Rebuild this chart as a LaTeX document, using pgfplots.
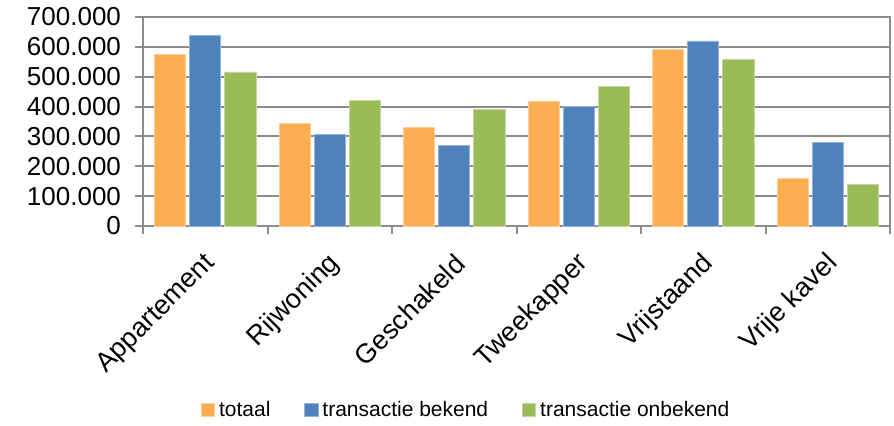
\documentclass[border=0pt]{standalone}
\usepackage{pgfplots}
\pgfplotsset{compat=1.18}
\usepackage{fontspec}
\setmainfont{Liberation Sans}
\definecolor{cOr}{HTML}{FDAE53}
\definecolor{cBl}{HTML}{4F81BD}
\definecolor{cGr}{HTML}{9BBB59}
\definecolor{cAx}{HTML}{8C8C8C}
\begin{document}
\begin{tikzpicture}
\useasboundingbox (-71.5pt,-99.5pt) rectangle (375.5pt,113pt);
\begin{axis}[
  at={(0,0)}, anchor=south west,
  scale only axis, width=373.5pt, height=104.5pt,
  ybar, bar width=0.25, bar shift auto,
  xmin=-0.5, xmax=5.5, ymin=0, ymax=700000,
  scaled y ticks=false,
  ytick={0,100000,...,700000},
  yticklabels={0,100.000,200.000,300.000,400.000,500.000,600.000,700.000},
  xtick={0,...,5},
  xticklabels={Appartement,Rijwoning,Geschakeld,Tweekapper,Vrijstaand,Vrije kavel},
  minor xtick={-0.5,0.5,...,5.5},
  major x tick style={draw=none},
  minor tick length=4pt,
  major tick length=4pt,
  tick align=outside,
  xtick pos=bottom, ytick pos=left,
  ymajorgrids,
  grid style={cAx, line width=1pt},
  axis line style={cAx, line width=1pt},
  every tick/.style={cAx, line width=1pt},
  tick style={cAx, line width=1pt},
  yticklabel style={font=\fontsize{13}{13}\selectfont, xshift=-3.5pt},
  xticklabel style={font=\fontsize{13.5}{13.5}\selectfont, rotate=45, anchor=east, yshift=-11pt, xshift=-3.5pt},
  /pgf/number format/assume math mode=true,
  legend columns=3,
  legend style={draw=none, at={(0.434,-0.88)}, anchor=center, font=\fontsize{10.5}{10.5}\selectfont,
    /tikz/every even column/.append style={column sep=15pt}},
  legend image code/.code={\fill[#1] (0pt,-3.3pt) rectangle (6.6pt,3.3pt);},
]
\addplot[fill=cOr, draw=cOr!60!white] coordinates {(0,576000) (1,345000) (2,329000) (3,419000) (4,590000) (5,158000)};
\addplot[fill=cBl, draw=cBl!60!white] coordinates {(0,638000) (1,308000) (2,269000) (3,400000) (4,620000) (5,279000)};
\addplot[fill=cGr, draw=cGr!60!white] coordinates {(0,516000) (1,422000) (2,390000) (3,467000) (4,557000) (5,139000)};
\legend{totaal, transactie bekend, transactie onbekend}
\draw[cAx, line width=1pt] (rel axis cs:1,0) -- (rel axis cs:1,1);
\end{axis}
\end{tikzpicture}
\end{document}
